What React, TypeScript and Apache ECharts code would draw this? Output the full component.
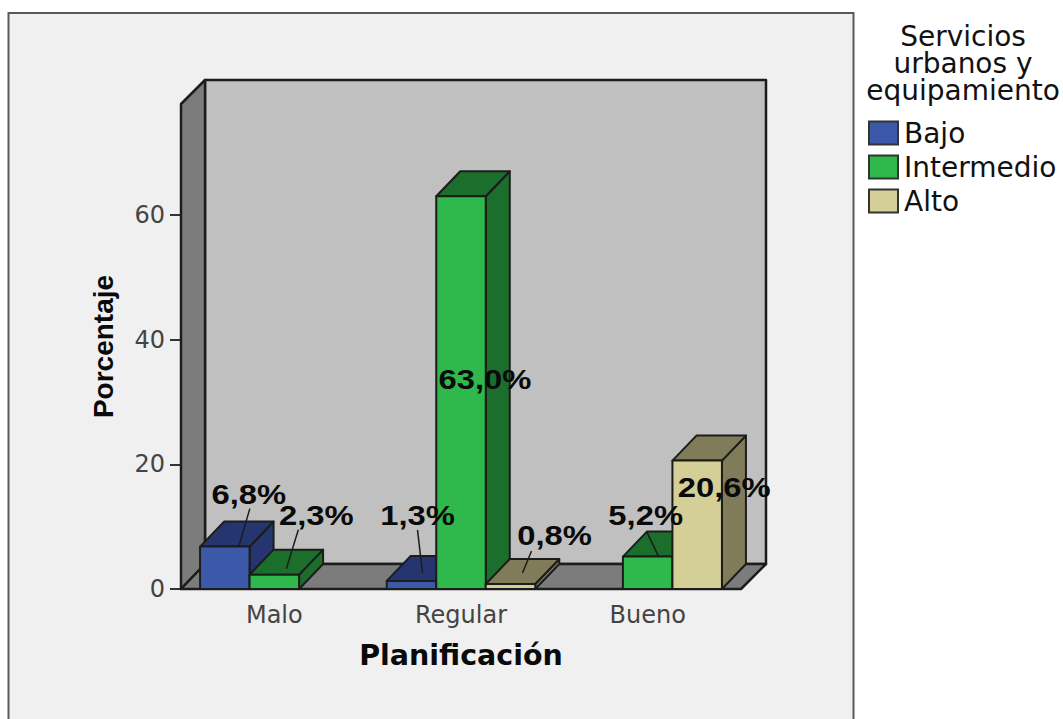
import React, { useEffect, useRef } from "react";
import * as echarts from "echarts";

const categories = ["Malo", "Regular", "Bueno"];
const seriesNames = ["Bajo", "Intermedio", "Alto"];
const bajo = [6.8, 1.3, null];
const intermedio = [2.3, 63.0, 5.2];
const alto = [null, 0.8, 20.6];
const yTicks = [0, 20, 40, 60];
const legendTitle = "Servicios\nurbanos y\nequipamiento";
const xName = "Planificación";
const yName = "Porcentaje";

const frontColors = ["#3c58a8", "#2fb84b", "#d4cf97"];
const darkColors = ["#24356f", "#1c6e2d", "#807c5a"];
const EDGE = "#1c1c1c";
const DEPTH_X = 24;
const DEPTH_Y = 25;

// label placement relative to the middle of the bar's front top edge:
// [series, category, label dx, label dy, leader start dx, dy, leader end dx, dy]
const labelPlacement = [
  [0, 0, 24, -53, 25, -38, 14, 0],
  [1, 0, 42, -60, 24, -45, 12, -6],
  [0, 1, 6, -66, 6, -51, 11, -8],
  [1, 1, 24, 183],
  [2, 1, 44, -49, 21, -33, 12, -11],
  [1, 2, -2, -42, -1, -25, 11, 0],
  [2, 2, 27, 26],
];

const allValues = [bajo, intermedio, alto];

function barLayout(params: any, api: any, seriesIdx: number, cat: number, value: number) {
  const bw = api.size([1, 0])[0] / 3.77;
  const c = api.coord([cat, value]);
  const base = api.coord([cat, 0]);
  const x0 = c[0] + (seriesIdx - 1.5) * bw;
  return { x0, x1: x0 + bw, top: c[1], bottom: base[1], mid: x0 + bw / 2 };
}

function poly(points: number[][], fill: string, lineWidth = 2) {
  return {
    type: "polygon",
    shape: { points },
    style: { fill, stroke: EDGE, lineWidth, lineJoin: "round" },
  };
}

function renderBar(seriesIdx: number) {
  return (params: any, api: any) => {
    const cat = api.value(0);
    const value = api.value(1);
    if (value == null || isNaN(value)) return { type: "group", children: [] };
    const { x0, x1, top, bottom } = barLayout(params, api, seriesIdx, cat, value);
    const dark = darkColors[seriesIdx];
    return {
      type: "group",
      children: [
        poly([[x1, top], [x1 + DEPTH_X, top - DEPTH_Y], [x1 + DEPTH_X, bottom - DEPTH_Y], [x1, bottom]], dark),
        poly([[x0, top], [x0 + DEPTH_X, top - DEPTH_Y], [x1 + DEPTH_X, top - DEPTH_Y], [x1, top]], dark),
        poly([[x0, top], [x1, top], [x1, bottom], [x0, bottom]], frontColors[seriesIdx]),
      ],
    };
  };
}

function renderWalls(params: any) {
  const { x, y, width, height } = params.coordSys;
  const r = x + width;
  const b = y + height;
  const bx = x + DEPTH_X;
  const bt = y - DEPTH_Y + 1;
  const bb = b - DEPTH_Y;
  const br = r + DEPTH_X + 1;
  return {
    type: "group",
    children: [
      poly([[bx, bt], [br, bt], [br, bb], [bx, bb]], "#c0c0c0", 2.5),
      poly([[x, y], [bx, bt], [bx, bb], [x, b]], "#7c7c7c", 2.5),
      poly([[x, b], [bx, bb], [br, bb], [r, b]], "#7c7c7c", 2.5),
    ],
  };
}

function renderLabel(params: any, api: any) {
  const seriesIdx = api.value(0);
  const cat = api.value(1);
  const p = labelPlacement[params.dataIndex];
  const value = allValues[seriesIdx][cat] as number;
  const { mid, top } = barLayout(params, api, seriesIdx, cat, value);
  const children: any[] = [];
  if (p.length > 4) {
    children.push({
      type: "line",
      shape: { x1: mid + p[4], y1: top + p[5], x2: mid + p[6], y2: top + p[7] },
      style: { stroke: EDGE, lineWidth: 1.5 },
    });
  }
  children.push({
    type: "text",
    x: mid + p[2],
    y: top + p[3],
    scaleX: 1.17,
    style: {
      text: value.toFixed(1).replace(".", ",") + "%",
      fontFamily: "Liberation Sans",
      fontWeight: "bold",
      fontSize: 28,
      fill: "#0a0a0a",
      align: "center",
      verticalAlign: "middle",
    },
  });
  return { type: "group", children };
}

const barSeries = (name: string, idx: number, values: (number | null)[]) => ({
  type: "custom",
  name,
  coordinateSystem: "cartesian2d",
  renderItem: renderBar(idx),
  encode: { x: 0, y: 1 },
  z: 5 + idx,
  clip: false,
  itemStyle: { color: frontColors[idx], borderColor: "#333", borderWidth: 2 },
  data: values.map((v, i) => [i, v]).filter((d) => d[1] != null),
});

export default function App() {
  const ref = useRef<HTMLDivElement>(null);
  useEffect(() => {
    document.body.style.margin = "0";
    document.body.style.overflow = "hidden";
    const chart = echarts.init(ref.current!, undefined, { renderer: "svg" });
    chart.setOption({
      animation: false,
      backgroundColor: "#ffffff",
      graphic: {
        elements: [
          {
            type: "rect",
            z: -10,
            silent: true,
            shape: { x: 8.5, y: 13, width: 845, height: 730 },
            style: { fill: "#f0f0f0", stroke: "#5a5a5a", lineWidth: 2 },
          },
        ],
      },
      title: {
        text: legendTitle,
        left: 963,
        top: 23,
        padding: 0,
        textAlign: "center",
        textStyle: {
          fontFamily: "DejaVu Sans",
          fontWeight: "normal",
          fontSize: 28,
          lineHeight: 27,
          color: "#111111",
        },
      },
      legend: {
        orient: "vertical",
        left: 868,
        top: 119,
        padding: 0,
        itemWidth: 29,
        itemHeight: 23,
        itemGap: 6,
        icon: "rect",
        data: seriesNames,
        textStyle: { fontFamily: "DejaVu Sans", fontSize: 28, color: "#111111", padding: [0, 0, 0, 1], lineHeight: 27 },
      },
      grid: { left: 181, right: 322, top: 104, bottom: 130, containLabel: false },
      xAxis: {
        type: "category",
        data: categories,
        name: xName,
        nameLocation: "middle",
        nameGap: 52,
        nameTextStyle: { fontFamily: "DejaVu Sans", fontWeight: "bold", fontSize: 28.5, color: "#0a0a0a" },
        axisLine: { lineStyle: { color: EDGE, width: 2 } },
        axisTick: { alignWithLabel: true, length: 11, lineStyle: { color: "#333", width: 2 } },
        axisLabel: { fontFamily: "DejaVu Sans", fontSize: 24, color: "#444444", margin: 14 },
        splitLine: { show: false },
      },
      yAxis: {
        type: "value",
        min: 0,
        max: 77.8,
        interval: 20,
        name: yName,
        nameLocation: "middle",
        nameGap: 64,
        nameRotate: 90,
        nameTextStyle: { fontFamily: "Liberation Sans", fontWeight: "bold", fontSize: 28, color: "#0a0a0a" },
        axisLine: { show: true, lineStyle: { color: EDGE, width: 2 } },
        axisTick: { show: true, length: 11, customValues: yTicks, lineStyle: { color: "#333", width: 2 } },
        axisLabel: { fontFamily: "DejaVu Sans", fontSize: 24, color: "#444444", margin: 16, customValues: yTicks },
        splitLine: { show: false },
      },
      series: [
        {
          type: "custom",
          name: "walls",
          coordinateSystem: "cartesian2d",
          renderItem: renderWalls,
          z: 1,
          clip: false,
          silent: true,
          data: [[0, 0]],
        },
        barSeries(seriesNames[0], 0, bajo),
        barSeries(seriesNames[1], 1, intermedio),
        barSeries(seriesNames[2], 2, alto),
        {
          type: "custom",
          name: "labels",
          coordinateSystem: "cartesian2d",
          renderItem: renderLabel,
          z: 20,
          clip: false,
          silent: true,
          encode: { x: 1, y: 2 },
          data: labelPlacement.map((p) => [p[0], p[1], allValues[p[0]][p[1]]]),
        },
      ],
    });
    return () => chart.dispose();
  }, []);
  return <div ref={ref} style={{ width: 1063, height: 719 }} />;
}
